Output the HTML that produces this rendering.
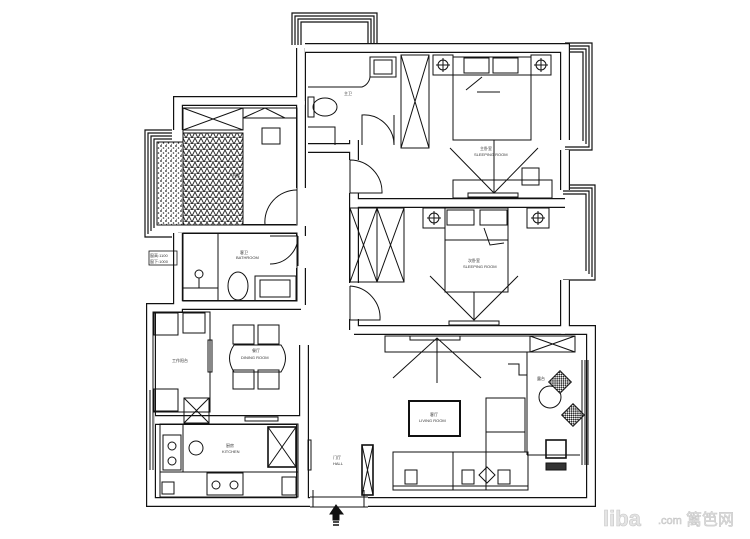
<!DOCTYPE html>
<html><head><meta charset="utf-8"><style>
html,body{margin:0;padding:0;background:#fff;width:750px;height:539px;overflow:hidden}
svg{display:block}
.t{font-family:"Liberation Sans","Noto Sans CJK SC",sans-serif;fill:#333}
</style></head><body>
<svg width="750" height="539" viewBox="0 0 750 539" xmlns="http://www.w3.org/2000/svg">
<defs>
<pattern id="tri" width="6" height="6" patternUnits="userSpaceOnUse">
<rect width="6" height="6" fill="#fff"/><path d="M0 6 L3 0 L6 6 Z" fill="none" stroke="#222" stroke-width="0.9"/></pattern>
<pattern id="sp" width="5" height="5" patternUnits="userSpaceOnUse">
<rect width="5" height="5" fill="#fff"/><circle cx="1" cy="1" r="0.9" fill="#222"/><circle cx="3.5" cy="3" r="0.8" fill="#333"/><circle cx="1.5" cy="4.2" r="0.5" fill="#444"/></pattern>
<pattern id="chk" width="3" height="3" patternUnits="userSpaceOnUse"><rect width="3" height="3" fill="#fff"/><rect width="1.5" height="1.5" fill="#222"/><rect x="1.5" y="1.5" width="1.5" height="1.5" fill="#222"/></pattern>
</defs>
<g fill="none" stroke="#111" stroke-width="1.2">
<path d="M292 45 V13 H377 V45 M295 45 V16 H374 V45 M298 45 V19 H371 V45 M301 45 V22 H368 V45"/>
<path d="M565 43 H592 V150 H565 M565 46 H589 V147 H565 M565 49 H586 V144 M565 52 H583 V141"/>
<path d="M563 185 H595 V280 H563 M563 188 H592 V277 M563 191 H589 V274 M563 194 H586 V271"/>
<path d="M172 130 H145 V237 H172 M172 133 H148 V234 M172 136 H151 V231 M172 139 H154 V228"/>
</g>
<g fill="none" stroke-linejoin="miter">
<g stroke="#111" stroke-width="10">
<path d="M305 48 H565 V140 M565 150 V190 M565 280 V330 H591 V502 H151 V308 H178 V233 M178 130 V101 H301 V48"/>
<path d="M301 101 V305 M178 305 H301 M178 229 H301"/>
<path d="M354 150 V330 M308 148 H354 V140 M354 330 H565 M354 203 H565"/>
<path d="M155 420 H301 V502 M304 345 V502"/>
</g>
<g stroke="#fff" stroke-width="7.6">
<path d="M305 48 H565 V140 M565 150 V190 M565 280 V330 H591 V502 H151 V308 H178 V233 M178 130 V101 H301 V48"/>
<path d="M301 101 V305 M178 305 H301 M178 229 H301"/>
<path d="M354 150 V330 M308 148 H354 V140 M354 330 H565 M354 203 H565"/>
<path d="M155 420 H301 V502 M304 345 V502"/>
</g>
</g>
<g fill="#fff">
<rect x="310" y="496" width="58" height="12"/>
<rect x="296" y="188" width="12" height="38"/>
<rect x="296" y="236" width="12" height="32"/>
<rect x="349" y="160" width="10" height="33"/>
<rect x="349" y="283" width="10" height="36"/>
<rect x="362" y="143" width="34" height="10"/>
</g>
<g fill="none" stroke="#111" stroke-width="1">
<path d="M310 497 H368 M310 507 H368 M313 490 V507 M364 490 V507"/>
<path d="M330 514 L336 505 L343 514 H339 V520 H333 V514 Z" fill="#111"/>
<path d="M333 522 H339 M333 525 H339" stroke-width="1.5"/>
<path d="M297 225 H265 A32 32 0 0 1 297 190"/>
<path d="M298 236 H270 M298 236 A28 28 0 0 1 270 264 M298 236 V266"/>
<path d="M350 160 V193 H382 A32 32 0 0 0 350 160"/>
<path d="M350 286 V320 H380 A32 32 0 0 0 350 286"/>
<path d="M362 145 V115 A30 30 0 0 1 394 145 M394 145 V115"/>
<rect x="370" y="57" width="26" height="20"/><rect x="374" y="60" width="18" height="14"/>
<path d="M308 87 H362 A12 12 0 0 0 370 77"/>
<ellipse cx="325" cy="107" rx="12" ry="9"/><rect x="308" y="97" width="6" height="20"/>
<path d="M308 127 H335 V145"/>
<rect x="401" y="55" width="28" height="93"/><path d="M401 55 L429 148 M429 55 L401 148"/>
<rect x="433" y="55" width="20" height="20"/><rect x="531" y="55" width="20" height="20"/>
<circle cx="443" cy="65" r="5"/><path d="M436 65 H450 M443 58 V72"/>
<circle cx="541" cy="65" r="5"/><path d="M534 65 H548 M541 58 V72"/>
<rect x="453" y="57" width="78" height="83"/><path d="M453 75 H531"/>
<rect x="464" y="58" width="25" height="15"/><rect x="493" y="58" width="25" height="15"/>
<path d="M466 90 L482 77 M477 92 H500"/>
<path d="M450 148 L494 193 L538 148 M494 140 V193"/>
<rect x="453" y="180" width="99" height="18"/><rect x="468" y="193" width="50" height="4"/>
<rect x="522" y="168" width="17" height="17"/>
<rect x="423" y="208" width="22" height="20"/><rect x="527" y="208" width="22" height="20"/>
<circle cx="434" cy="218" r="5"/><path d="M427 218 H441 M434 211 V225"/>
<circle cx="538" cy="218" r="5"/><path d="M531 218 H545 M538 211 V225"/>
<rect x="445" y="208" width="63" height="84"/><path d="M445 240 H508"/>
<rect x="447" y="210" width="27" height="15"/><rect x="480" y="210" width="27" height="15"/>
<path d="M484 228 L490 245 L504 243"/>
<path d="M430 276 L474 320 L518 276 M474 292 V320"/>
<rect x="449" y="321" width="50" height="4"/>
<rect x="350" y="208" width="54" height="74"/><path d="M377 208 V282 M350 208 L377 282 M377 208 L350 282 M377 208 L404 282 M404 208 L377 282"/>
<rect x="183" y="108" width="114" height="117"/>
<rect x="183" y="108" width="60" height="22"/><path d="M183 108 L243 130 M243 108 L183 130"/>
<rect x="243" y="108" width="54" height="10"/><path d="M243 118 L265 108 L285 118"/>
<rect x="262" y="128" width="18" height="16"/>
<rect x="183" y="133" width="60" height="92" fill="url(#tri)"/>
<rect x="157" y="142" width="26" height="83" fill="url(#sp)"/>
<rect x="183" y="233" width="114" height="68"/>
<path d="M218 233 V301 M183 288 H218"/>
<circle cx="199" cy="274" r="4"/><path d="M199 278 V288"/>
<ellipse cx="238" cy="286" rx="10" ry="14"/>
<rect x="255" y="276" width="41" height="25"/><rect x="260" y="280" width="30" height="17"/>
<rect x="149" y="251" width="28" height="14" stroke-width="0.8"/>
<rect x="153" y="312" width="57" height="100"/>
<rect x="154" y="313" width="24" height="22"/><rect x="183" y="313" width="22" height="20"/>
<rect x="154" y="389" width="24" height="22"/>
<rect x="184" y="398" width="25" height="25"/><path d="M184 398 L209 423 M209 398 L184 423"/>
<rect x="208" y="340" width="4" height="32"/>
<path d="M234 345 Q225 358 234 372 H281 Q290 358 281 345 Z"/>
<rect x="233" y="325" width="21" height="19"/><rect x="258" y="325" width="21" height="19"/>
<rect x="233" y="370" width="21" height="19"/><rect x="258" y="370" width="21" height="19"/>
<rect x="160" y="424" width="138" height="73"/>
<path d="M183 424 V472 H298 M160 472 H183"/>
<rect x="163" y="435" width="18" height="35"/><circle cx="172" cy="446" r="4"/><circle cx="172" cy="461" r="4"/>
<circle cx="196" cy="448" r="7"/>
<rect x="268" y="427" width="28" height="40" stroke-width="1.6"/><path d="M268 427 L296 467 M296 427 L268 467"/>
<rect x="207" y="473" width="36" height="22"/><circle cx="216" cy="485" r="4"/><circle cx="234" cy="485" r="4"/>
<rect x="162" y="482" width="12" height="12"/>
<rect x="282" y="477" width="14" height="18"/>
<rect x="245" y="417" width="33" height="4"/>
<rect x="308" y="440" width="3" height="30"/>
<rect x="362" y="445" width="11" height="50" stroke-width="1.6"/><path d="M362 445 L373 495 M373 445 L362 495"/>
<rect x="385" y="336" width="145" height="16"/><rect x="410" y="336" width="50" height="4"/>
<rect x="530" y="336" width="45" height="16"/><path d="M530 336 L575 352 M575 336 L530 352"/>
<path d="M393 378 L437 338 L481 378 M437 338 V383"/>
<rect x="409" y="401" width="51" height="35" stroke-width="2"/>
<rect x="486" y="398" width="39" height="54"/><path d="M486 432 H525"/>
<rect x="393" y="452" width="135" height="38"/><path d="M393 486 H528 M453 452 V490 M486 452 V490"/>
<rect x="405" y="470" width="12" height="14"/><rect x="462" y="470" width="12" height="14"/><rect x="498" y="470" width="12" height="14"/>
<path d="M487 467 L495 475 L487 483 L479 475 Z"/>
<path d="M508 364 H519 V375 H527 M527 352 V455 M527 455 H580"/>
<circle cx="550" cy="397" r="11"/>
<rect x="552" y="374" width="16" height="16" transform="rotate(45 560 382)" fill="url(#chk)"/>
<rect x="565" y="407" width="16" height="16" transform="rotate(45 573 415)" fill="url(#chk)"/>
<rect x="546" y="440" width="20" height="18" stroke-width="1.6"/><rect x="546" y="463" width="20" height="7" fill="#333"/>
<path d="M582 360 V465 M585 360 V465 M588 360 V465"/>
<path d="M150 390 V470 M153 390 V470"/>
</g>
<g class="t" font-size="4">
<text x="344" y="95" font-size="4">主卫</text>
<text x="480" y="150">主卧室</text><text x="474" y="156">SLEEPING ROOM</text>
<text x="468" y="262">次卧室</text><text x="463" y="268">SLEEPING ROOM</text>
<text x="232" y="177">书房</text>
<text x="240" y="254">客卫</text><text x="236" y="259">BATHROOM</text>
<text x="172" y="362">工作阳台</text>
<text x="252" y="352">餐厅</text><text x="241" y="359">DINING ROOM</text>
<text x="226" y="447">厨房</text><text x="222" y="453">KITCHEN</text>
<text x="333" y="459">门厅</text><text x="333" y="465">HALL</text>
<text x="430" y="416">客厅</text><text x="419" y="422">LIVING ROOM</text>
<text x="537" y="380">露台</text>
<text x="150" y="257">窗高:1100</text><text x="150" y="263">窗下:1000</text>
</g>
<g font-family="Liberation Sans,Noto Sans CJK SC,sans-serif" fill="#e4e4e4" stroke="#c8c8c8" stroke-width="0.6">
<text x="603" y="526" font-size="22" font-weight="bold">liba</text>
<text x="658" y="524" font-size="11">.com</text>
<text x="686" y="525" font-size="16">篱笆网</text>
</g>
</svg>
</body></html>
